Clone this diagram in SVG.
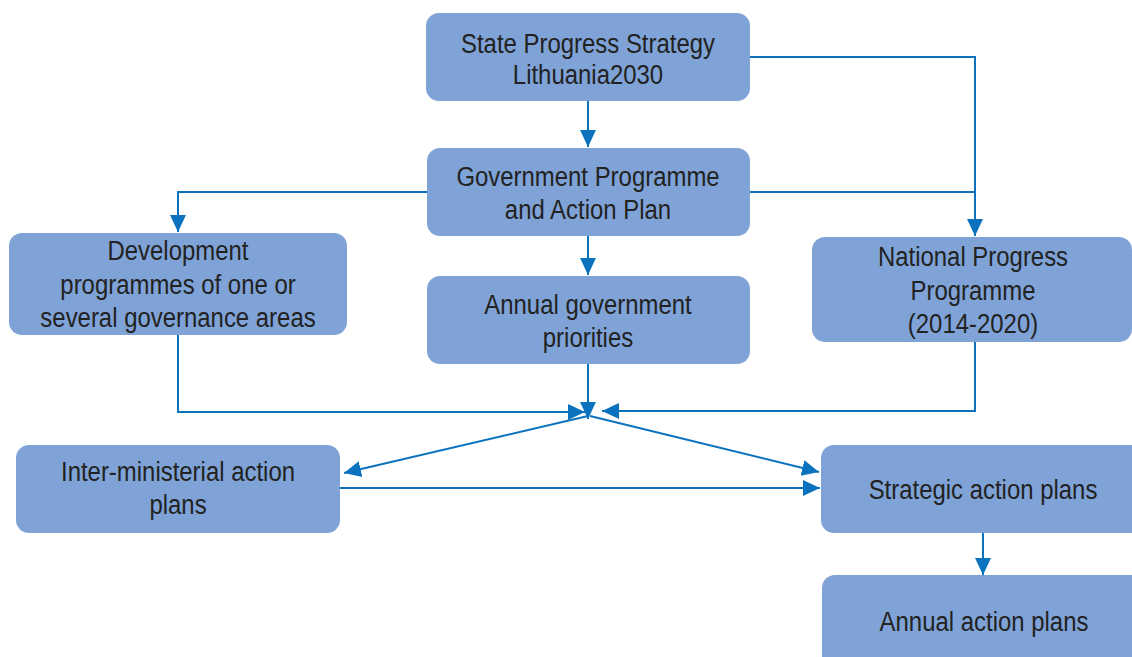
<svg xmlns="http://www.w3.org/2000/svg" width="1132" height="657" viewBox="0 0 1132 657">
<style>
.box{fill:#7FA3D6;}
.t{font-family:"Liberation Sans",Arial,sans-serif;font-size:28px;fill:#222;text-anchor:middle;}
.c{fill:none;stroke:#0B72BE;stroke-width:2;}
</style>
<defs>
<marker id="ah" markerUnits="userSpaceOnUse" markerWidth="18" markerHeight="18" refX="17" refY="9" orient="auto" viewBox="0 0 18 18">
<path d="M0,1 L17,9 L0,17 z" fill="#0B72BE"/>
</marker>
</defs>
<rect width="1132" height="657" fill="#fff"/>
<g id="connectors">
<path class="c" d="M588,101 V147" marker-end="url(#ah)"/>
<path class="c" d="M750,57 H975 V236" marker-end="url(#ah)"/>
<path class="c" d="M750,192 H975"/>
<path class="c" d="M427,192 H178 V232" marker-end="url(#ah)"/>
<path class="c" d="M588,236 V275" marker-end="url(#ah)"/>
<path class="c" d="M178,335 V412 H585" marker-end="url(#ah)"/>
<path class="c" d="M588,364 V419" marker-end="url(#ah)"/>
<path class="c" d="M975,342 V411 H602" marker-end="url(#ah)"/>
<path class="c" d="M588,416 L344,473" marker-end="url(#ah)"/>
<path class="c" d="M590,416 L819,472" marker-end="url(#ah)"/>
<path class="c" d="M340,488 H820" marker-end="url(#ah)"/>
<path class="c" d="M983,533 V575" marker-end="url(#ah)"/>
</g>
<g id="state">
<rect class="box" x="426" y="13" width="324" height="88" rx="13"/>
<g transform="translate(588,0) scale(0.855,1)">
<text class="t" x="0" y="53">State Progress Strategy</text>
<text class="t" x="0" y="84">Lithuania2030</text>
</g>
</g>
<g id="gov">
<rect class="box" x="427" y="148" width="323" height="88" rx="13"/>
<g transform="translate(588,0) scale(0.855,1)">
<text class="t" x="0" y="186">Government Programme</text>
<text class="t" x="0" y="219">and Action Plan</text>
</g>
</g>
<g id="annualgov">
<rect class="box" x="427" y="276" width="323" height="88" rx="13"/>
<g transform="translate(588,0) scale(0.855,1)">
<text class="t" x="0" y="314">Annual government</text>
<text class="t" x="0" y="347">priorities</text>
</g>
</g>
<g id="dev">
<rect class="box" x="9" y="233" width="338" height="102" rx="13"/>
<g transform="translate(178,0) scale(0.855,1)">
<text class="t" x="0" y="260">Development</text>
<text class="t" x="0" y="294">programmes of one or</text>
<text class="t" x="0" y="327">several governance areas</text>
</g>
</g>
<g id="national">
<rect class="box" x="812" y="237" width="320" height="105" rx="13"/>
<g transform="translate(973,0) scale(0.855,1)">
<text class="t" x="0" y="266">National Progress</text>
<text class="t" x="0" y="300">Programme</text>
<text class="t" x="0" y="333">(2014-2020)</text>
</g>
</g>
<g id="inter">
<rect class="box" x="16" y="445" width="324" height="88" rx="13"/>
<g transform="translate(178,0) scale(0.855,1)">
<text class="t" x="0" y="481">Inter-ministerial action</text>
<text class="t" x="0" y="514">plans</text>
</g>
</g>
<g id="strategic">
<rect class="box" x="821" y="445" width="325" height="88" rx="13"/>
<g transform="translate(983,0) scale(0.855,1)">
<text class="t" x="0" y="499">Strategic action plans</text>
</g>
</g>
<g id="annualaction">
<rect class="box" x="822" y="575" width="325" height="100" rx="13"/>
<g transform="translate(984,0) scale(0.855,1)">
<text class="t" x="0" y="631">Annual action plans</text>
</g>
</g>
</svg>
